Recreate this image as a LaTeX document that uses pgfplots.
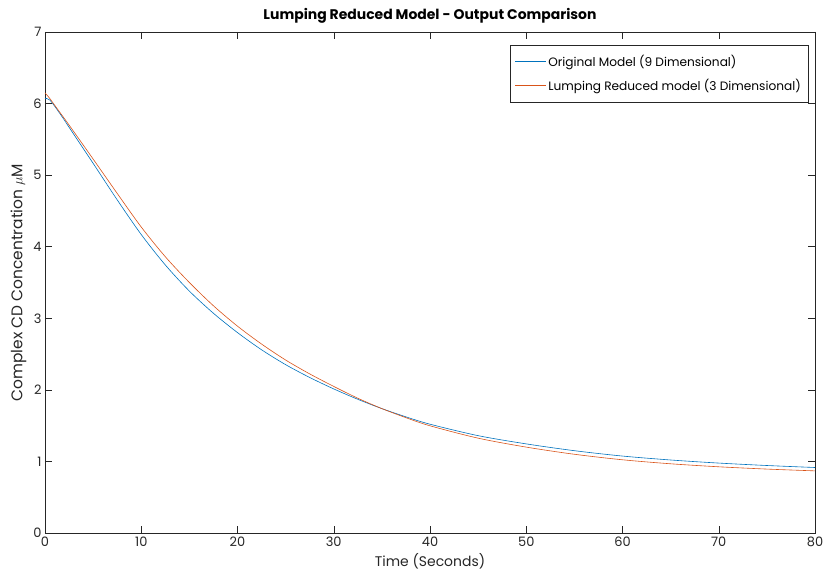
\documentclass[border=0pt]{standalone}
\usepackage{fontspec}
\setmainfont{Poppins}
\usepackage{pgfplots}
\pgfplotsset{compat=1.18}
\definecolor{mblue}{rgb}{0,0.447,0.741}
\definecolor{morange}{rgb}{0.85,0.325,0.098}
\definecolor{axgray}{rgb}{0.15,0.15,0.15}
\begin{document}
\begin{tikzpicture}
\begin{axis}[
  name=ax,
  scale only axis, width=770bp, height=501bp,
  xmin=0, xmax=80, ymin=0, ymax=7,
  xtick={0,10,...,80}, ytick={0,1,...,7},
  tick align=inside, major tick length=7bp,
  axis line style={axgray, line width=0.5pt},
  tick style={axgray, line width=0.5pt},
  ticklabel style={font=\fontsize{13}{15}\selectfont, text=axgray},
  /pgf/number format/assume math mode=true,
  title={\bfseries Lumping Reduced Model - Output Comparison},
  title style={font=\fontsize{14}{16}\selectfont, yshift=-1bp},
  xlabel={Time (Seconds)}, ylabel={Complex CD Concentration $\mu$M},
  xlabel style={font=\fontsize{14}{16}\selectfont, text=axgray},
  ylabel style={font=\fontsize{15.5}{17}\selectfont, text=axgray},
  legend style={at={(1,1)}, anchor=north east, xshift=-7bp, yshift=-13bp,
    draw=axgray, font=\fontsize{12.2}{14}\selectfont, row sep=7bp,
    inner ysep=8bp, inner xsep=5bp},
  legend cell align=left,
  legend image code/.code={\draw[#1, line width=0.5pt] (0bp,0bp) -- (31bp,0bp);},
]
\addplot[mblue, line width=0.6pt, smooth] coordinates {
(0,6.07) (0.5,6.05) (1.5,5.87) (2.5,5.67) (5,5.165) (7.5,4.655) (10,4.17)
(12.5,3.745) (15,3.38) (17.5,3.07) (20,2.80) (22.5,2.56) (25,2.352) (27.5,2.173)
(30,2.013) (32.5,1.868) (35,1.738) (37.5,1.623) (40,1.52) (45,1.36) (50,1.245)
(55,1.15) (60,1.075) (65,1.02) (70,0.977) (75,0.943) (80,0.915)};
\addlegendentry{Original Model (9 Dimensional)}
\addplot[morange, line width=0.6pt, smooth] coordinates {
(0,6.15) (0.5,6.07) (1.5,5.885) (2.5,5.70) (5,5.225) (7.5,4.745) (10,4.275)
(12.5,3.86) (15,3.50) (17.5,3.175) (20,2.89) (22.5,2.64) (25,2.417) (27.5,2.223)
(30,2.048) (32.5,1.883) (35,1.738) (37.5,1.611) (40,1.498) (45,1.325) (50,1.20)
(55,1.10) (60,1.023) (65,0.967) (70,0.925) (75,0.893) (80,0.868)};
\addlegendentry{Lumping Reduced model (3 Dimensional)}
\end{axis}
\pgfresetboundingbox
\path ([shift={(-45bp,-44bp)}]ax.south west) rectangle ([shift={(10bp,32bp)}]ax.north east);
\end{tikzpicture}
\end{document}
